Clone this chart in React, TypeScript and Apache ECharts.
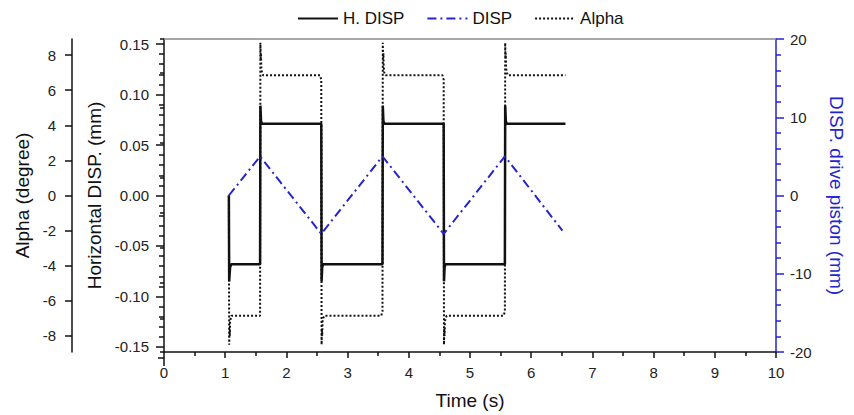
import React, { useEffect, useRef } from "react";
import * as echarts from "echarts";

// Time (s) / value pairs
const hDispTime = [1.06, 1.065, 1.08, 1.1, 1.57, 1.575, 1.585, 1.6, 2.57, 2.575, 2.585, 2.6, 3.57, 3.575, 3.585, 3.6, 4.57, 4.575, 4.585, 4.6, 5.57, 5.575, 5.585, 5.6, 6.56];
const hDispValue = [0, -0.085, -0.071, -0.068, -0.068, 0.089, 0.074, 0.071, 0.071, -0.085, -0.071, -0.068, -0.068, 0.089, 0.074, 0.071, 0.071, -0.085, -0.071, -0.068, -0.068, 0.089, 0.074, 0.071, 0.071];

const dispTime = [1.06, 1.57, 2.57, 3.57, 4.57, 5.57, 6.51];
const dispValue = [0, 5, -4.9, 5, -4.9, 5, -4.5];

const alphaTime = [1.06, 1.065, 1.07, 1.075, 1.08, 1.09, 1.1, 1.57, 1.575, 1.58, 1.585, 1.59, 1.6, 1.62, 2.55, 2.57, 2.575, 2.58, 2.585, 2.59, 2.6, 2.62, 3.55, 3.57, 3.575, 3.58, 3.585, 3.59, 3.6, 3.62, 4.55, 4.57, 4.575, 4.58, 4.585, 4.59, 4.6, 4.62, 5.55, 5.57, 5.575, 5.58, 5.585, 5.59, 5.6, 5.62, 6.56];
const alphaValue = [0, -8.5, -7.6, -8.0, -7.2, -7.0, -6.85, -6.85, 8.7, 7.8, 8.1, 7.3, 7.0, 6.85, 6.85, 6.6, -8.5, -7.6, -8.0, -7.2, -7.0, -6.85, -6.85, -6.6, 8.7, 7.8, 8.1, 7.3, 7.0, 6.85, 6.85, 6.6, -8.5, -7.6, -8.0, -7.2, -7.0, -6.85, -6.85, -6.6, 8.7, 7.8, 8.1, 7.3, 7.0, 6.85, 6.85];

const alphaMajor = [-8, -6, -4, -2, 0, 2, 4, 6, 8];
const alphaMinor = [-8.92, -7, -5, -3, -1, 1, 3, 5, 7, 8.92];
const hMajor = [-0.15, -0.1, -0.05, 0, 0.05, 0.1, 0.15];
const hMinor = [-0.14, -0.13, -0.12, -0.11, -0.09, -0.08, -0.07, -0.06, -0.04, -0.03, -0.02, -0.01, 0.01, 0.02, 0.03, 0.04, 0.06, 0.07, 0.08, 0.09, 0.11, 0.12, 0.13, 0.14];

const zip = (a: number[], b: number[]) => a.map((t, i) => [t, b[i]]);

const FONT = "Liberation Sans, Arial, sans-serif";
const BLUE = "#2424cc";
const labelStyle = { color: "#222", fontSize: 15, fontFamily: FONT };
const nameStyle = { color: "#111", fontSize: 19, fontFamily: FONT };

export default function App() {
  const ref = useRef<HTMLDivElement>(null);
  useEffect(() => {
    if (!ref.current) return;
    const chart = echarts.init(ref.current, null, { renderer: "svg" });
    const hiddenAxisBase = {
      type: "value" as const,
      position: "left" as const,
      splitLine: { show: false },
      axisLabel: { show: false },
      axisLine: { show: false },
    };
    chart.setOption({
      animation: false,
      backgroundColor: "#fff",
      legend: {
        top: 5,
        left: 292,
        itemWidth: 40,
        itemHeight: 14,
        itemGap: 22,
        itemStyle: { opacity: 0 },
        textStyle: { color: "#111", fontSize: 17, fontFamily: FONT },
        data: ["H. DISP", "DISP", "Alpha"],
      },
      grid: { left: 164, right: 77, top: 39, bottom: 57 },
      graphic: [
        { type: "line", shape: { x1: 164, y1: 358, x2: 164, y2: 366 }, style: { stroke: "#111", lineWidth: 1.5 } },
        { type: "line", shape: { x1: 158, y1: 358, x2: 164, y2: 358 }, style: { stroke: "#111", lineWidth: 1.5 } },
      ],
      xAxis: [
        {
          type: "value",
          min: 0,
          max: 10,
          interval: 1,
          name: "Time (s)",
          nameLocation: "middle",
          nameGap: 39,
          nameTextStyle: nameStyle,
          axisLine: { onZero: false, lineStyle: { color: "#111", width: 1.5 } },
          axisTick: { inside: false, length: 6, lineStyle: { color: "#111", width: 1.5 } },
          minorTick: { show: true, splitNumber: 2, length: 4, lineStyle: { color: "#111", width: 1.5 } },
          axisLabel: { ...labelStyle, margin: 13 },
          splitLine: { show: false },
        },
        {
          type: "value",
          position: "top",
          min: 0,
          max: 10,
          axisLine: { onZero: false, lineStyle: { color: "#888", width: 1.5 } },
          axisTick: { show: false },
          axisLabel: { show: false },
          splitLine: { show: false },
        },
      ],
      yAxis: [
        {
          type: "value",
          position: "left",
          min: -0.155,
          max: 0.155,
          name: "Horizontal DISP. (mm)",
          nameLocation: "middle",
          nameGap: 54,
          nameTextStyle: nameStyle,
          axisLine: { show: true, onZero: false, lineStyle: { color: "#111", width: 1.5 } },
          axisTick: { show: true, length: 8, customValues: hMajor, lineStyle: { color: "#111", width: 1.5 } },
          axisLabel: { ...labelStyle, margin: 15, customValues: hMajor, formatter: (v: number) => v.toFixed(2) },
          splitLine: { show: false },
        },
        {
          ...hiddenAxisBase,
          min: -0.155,
          max: 0.155,
          axisTick: { show: true, length: 5, customValues: hMinor, lineStyle: { color: "#111", width: 1.5 } },
        },
        {
          type: "value",
          position: "left",
          offset: 92,
          min: -8.92,
          max: 8.92,
          name: "Alpha (degree)",
          nameLocation: "middle",
          nameGap: 40,
          nameTextStyle: nameStyle,
          axisLine: { show: true, onZero: false, lineStyle: { color: "#111", width: 1.5 } },
          axisTick: { show: true, length: 7, customValues: alphaMajor, lineStyle: { color: "#111", width: 1.5 } },
          axisLabel: { ...labelStyle, margin: 16, customValues: alphaMajor },
          splitLine: { show: false },
        },
        {
          ...hiddenAxisBase,
          offset: 92,
          min: -8.92,
          max: 8.92,
          axisTick: { show: true, length: 4, customValues: alphaMinor, lineStyle: { color: "#111", width: 1.5 } },
        },
        {
          type: "value",
          position: "right",
          min: -20,
          max: 20,
          interval: 10,
          name: "DISP. drive piston (mm)",
          nameLocation: "middle",
          nameGap: 51,
          nameRotate: -90,
          nameTextStyle: { ...nameStyle, color: BLUE },
          axisLine: { show: true, onZero: false, lineStyle: { color: BLUE, width: 1.5 } },
          axisTick: { show: true, length: 8, lineStyle: { color: BLUE, width: 1.5 } },
          minorTick: { show: true, splitNumber: 5, length: 5, lineStyle: { color: BLUE, width: 1.5 } },
          axisLabel: { ...labelStyle, margin: 14 },
          splitLine: { show: false },
        },
      ],
      series: [
        {
          name: "H. DISP",
          type: "line",
          yAxisIndex: 0,
          symbol: "none",
          data: zip(hDispTime, hDispValue),
          lineStyle: { color: "#111", width: 2.5 },
          itemStyle: { color: "#111" },
          z: 3,
        },
        {
          name: "DISP",
          type: "line",
          yAxisIndex: 4,
          symbol: "none",
          data: zip(dispTime, dispValue),
          lineStyle: { color: BLUE, width: 2, type: [9, 4, 2, 4] },
          itemStyle: { color: BLUE },
          z: 4,
        },
        {
          name: "Alpha",
          type: "line",
          yAxisIndex: 2,
          symbol: "none",
          data: zip(alphaTime, alphaValue),
          lineStyle: { color: "#111", width: 2, type: [2, 2] },
          itemStyle: { color: "#111" },
          z: 2,
        },
      ],
    });
    return () => chart.dispose();
  }, []);
  return <div ref={ref} style={{ width: 854, height: 415, position: "absolute", left: 0, top: 0 }} />;
}
